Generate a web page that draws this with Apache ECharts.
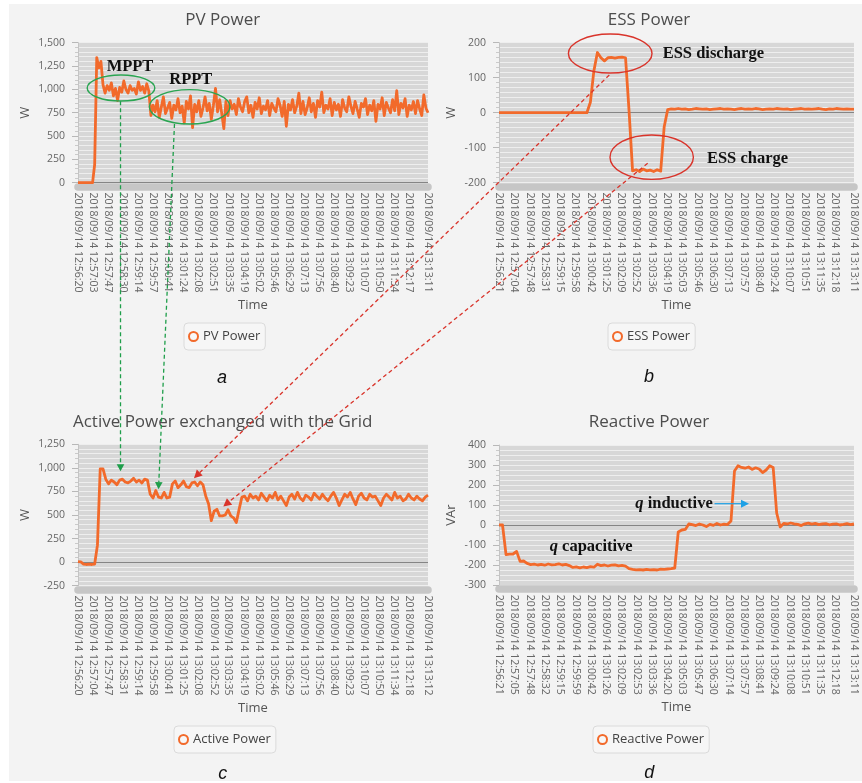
<!DOCTYPE html>
<html>
<head>
<meta charset="utf-8">
<script src="https://cdn.jsdelivr.net/npm/echarts@6/dist/echarts.min.js"></script>
<style>
  html, body { margin: 0; padding: 0; background: #ffffff; }
  #wrap { position: relative; width: 862px; height: 783px; background: #ffffff; overflow: hidden; }
  .panel { position: absolute; background: #f3f3f3; }
  #chart { position: absolute; left: 0; top: 0; width: 862px; height: 783px; }
</style>
</head>
<body>
<div id="wrap">
  <div class="panel" style="left:9px;top:4px;width:853px;height:777px"></div>
  <div id="chart"></div>
</div>
<script>
// ---- time-axis tick labels (one set per logger) ----
const pvTicks = ['2018/09/14 12:56:20','2018/09/14 12:57:03','2018/09/14 12:57:47','2018/09/14 12:58:30','2018/09/14 12:59:14','2018/09/14 12:59:57','2018/09/14 13:00:41','2018/09/14 13:01:24','2018/09/14 13:02:08','2018/09/14 13:02:51','2018/09/14 13:03:35','2018/09/14 13:04:19','2018/09/14 13:05:02','2018/09/14 13:05:46','2018/09/14 13:06:29','2018/09/14 13:07:13','2018/09/14 13:07:56','2018/09/14 13:08:40','2018/09/14 13:09:23','2018/09/14 13:10:07','2018/09/14 13:10:50','2018/09/14 13:11:34','2018/09/14 13:12:17','2018/09/14 13:13:11'];
const essTicks = ['2018/09/14 12:56:21','2018/09/14 12:57:04','2018/09/14 12:57:48','2018/09/14 12:58:31','2018/09/14 12:59:15','2018/09/14 12:59:58','2018/09/14 13:00:42','2018/09/14 13:01:25','2018/09/14 13:02:09','2018/09/14 13:02:52','2018/09/14 13:03:36','2018/09/14 13:04:19','2018/09/14 13:05:03','2018/09/14 13:05:46','2018/09/14 13:06:30','2018/09/14 13:07:13','2018/09/14 13:07:57','2018/09/14 13:08:40','2018/09/14 13:09:24','2018/09/14 13:10:07','2018/09/14 13:10:51','2018/09/14 13:11:35','2018/09/14 13:12:18','2018/09/14 13:13:11'];
const activeTicks = ['2018/09/14 12:56:20','2018/09/14 12:57:04','2018/09/14 12:57:47','2018/09/14 12:58:31','2018/09/14 12:59:14','2018/09/14 12:59:58','2018/09/14 13:00:41','2018/09/14 13:01:25','2018/09/14 13:02:08','2018/09/14 13:02:52','2018/09/14 13:03:35','2018/09/14 13:04:19','2018/09/14 13:05:02','2018/09/14 13:05:46','2018/09/14 13:06:29','2018/09/14 13:07:13','2018/09/14 13:07:56','2018/09/14 13:08:40','2018/09/14 13:09:23','2018/09/14 13:10:07','2018/09/14 13:10:50','2018/09/14 13:11:34','2018/09/14 13:12:18','2018/09/14 13:13:12'];
const reactiveTicks = ['2018/09/14 12:56:21','2018/09/14 12:57:05','2018/09/14 12:57:48','2018/09/14 12:58:32','2018/09/14 12:59:15','2018/09/14 12:59:59','2018/09/14 13:00:42','2018/09/14 13:01:26','2018/09/14 13:02:09','2018/09/14 13:02:53','2018/09/14 13:03:36','2018/09/14 13:04:20','2018/09/14 13:05:03','2018/09/14 13:05:47','2018/09/14 13:06:30','2018/09/14 13:07:14','2018/09/14 13:07:57','2018/09/14 13:08:41','2018/09/14 13:09:24','2018/09/14 13:10:08','2018/09/14 13:10:51','2018/09/14 13:11:35','2018/09/14 13:12:18','2018/09/14 13:13:11'];

// ---- logged values, evenly spaced between first and last timestamp ----
// PV power [W]
const pvPower = [0,0,0,0,0,0,0,0,195,1340,1230,1300,1050,
  960,1040,990,1070,930,1010,880,1020,970,1090,1000,960,1040,990,1010,950,1080,990,1030,960,1060,
  980,
  720,830,760,880,700,810,920,740,800,860,690,830,780,900,750,820,640,870,790,930,590,840,760,880,710,800,920,770,850,680,830,1010,760,890,740,580,870,
  720,880,790,840,730,900,810,760,870,920,
  750,830,700,860,790,910,740,820,780,880,
  720,850,800,760,900,830,710,870,605,840,
  780,890,750,820,960,740,870,730,800,910,
  760,850,700,880,810,970,750,830,790,900,
  720,860,780,840,710,890,800,760,920,820,
  740,870,790,700,850,810,900,730,830,770,
  880,657,840,790,910,720,860,800,750,890,
  770,985,730,850,800,900,710,830,780,870,
  740,880,790,720,940,800,750];
// ESS power [W]
const essPower = [0,0,0,0,0,0,0,0,0,0,0,0,0,0,0,0,0,0,0,0,0,0,0,0,0,0,
  30,120,172,157,148,157,158,156,158,159,157,5,
  -166,-163,-168,-161,-166,-164,-168,-163,-167,-40,9,
  11,10,12,10,11,9,10,12,11,10,11,9,10,11,12,10,11,10,9,11,
  12,10,11,10,12,11,9,10,11,10,12,11,10,11,9,10,11,12,10,11,
  10,11,12,10,9,11,10,12,11,10,11,10,10];
// Active power exchanged with the grid [W]
const activePower = [5,2,-20,-25,-22,-25,-20,180,990,
  990,880,830,870,850,820,870,880,850,840,860,890,850,870,840,880,870,
  720,680,760,690,680,740,680,690,
  830,860,790,820,860,800,790,840,850,810,
  850,820,700,620,440,540,560,490,490,500,555,490,470,420,560,690,
  700,650,720,680,700,660,730,690,650,710,
  680,740,660,700,650,600,690,720,670,740,
  680,650,710,690,660,730,700,670,720,680,
  650,700,740,680,600,660,720,690,740,670,
  610,700,730,680,660,720,690,700,650,600,
  680,720,690,660,740,680,700,650,670,720,
  680,660,700,670,650,690,710];
// Reactive power [VAr]
const reactivePower = [0,0,-148,-146,-145,-132,-182,-180,-192,-198,
  -196,-200,-197,-201,-195,-199,-198,-194,-200,-197,-203,
  -212,-209,-214,-210,-213,-208,-211,
  -196,
  -203,-200,-205,-201,-199,-204,-202,-206,
  -218,
  -222,-224,-223,-225,-222,-224,-223,-225,-221,-222,-220,-218,
  -215,-35,-25,-22,
  5,
  2,-3,5,0,-8,3,-2,8,0,4,2,
  20,270,296,
  288,284,290,278,286,280,262,275,296,288,
  60,-10,
  8,5,10,6,3,-3,6,9,4,8,2,5,7,1,4,6,0,3,7,2,5];

// ---- styling ----
const ORANGE = '#f26a2b';
const UI_FONT = 'Open Sans';
const SERIF = 'Liberation Serif';
const STRIPE = '#d7d7d7';
const STRIPE_LINE = '#eeeeee';
const ZERO_LINE = '#858585';

function secs(label) {
  const [h, m, s] = label.split(' ')[1].split(':').map(Number);
  return h * 3600 + m * 60 + s;
}
function tickOffsets(ticks) {
  const t0 = secs(ticks[0]);
  return ticks.map(l => secs(l) - t0);
}
function toPoints(values, ticks) {
  const offs = tickOffsets(ticks);
  const span = offs[offs.length - 1];
  const step = span / (values.length - 1);
  return values.map((v, i) => [i * step, v]);
}

function timeAxis(gridIndex, ticks) {
  const offs = tickOffsets(ticks);
  return {
    type: 'value', gridIndex: gridIndex, min: 0, max: offs[offs.length - 1],
    offset: 3.75,
    name: 'Time', nameLocation: 'middle', nameGap: 112,
    nameTextStyle: { fontFamily: UI_FONT, fontSize: 13, color: '#555' },
    axisLine: { show: true, onZero: false, lineStyle: { color: '#c6c6c6', width: 7.5 } },
    axisTick: { show: false },
    splitLine: { show: false },
    axisLabel: {
      customValues: offs,
      rotate: -90, margin: 6, fontFamily: UI_FONT, fontSize: 10.5, color: '#666',
      showMinLabel: true, showMaxLabel: true, hideOverlap: false,
      formatter: function (v) {
        const k = offs.findIndex(x => Math.abs(x - v) < 0.5);
        return k >= 0 ? ticks[k] : '';
      }
    }
  };
}

function valueAxis(gridIndex, min, max, interval, minorSplit, name, nameGap) {
  const n = Math.round((max - min) / interval) + 1;
  const colors = [];
  for (let i = 0; i < n; i++) colors.push(min + i * interval === 0 ? ZERO_LINE : STRIPE_LINE);
  return {
    type: 'value', gridIndex: gridIndex, min: min, max: max, interval: interval,
    offset: 5,
    name: name, nameLocation: 'middle', nameGap: nameGap, nameRotate: 90,
    nameTextStyle: { fontFamily: UI_FONT, fontSize: 13, color: '#555' },
    axisLine: { show: true, lineStyle: { color: '#c4c4c4', width: 1 } },
    axisTick: { show: true, length: 6, lineStyle: { color: '#b8b8b8' } },
    minorTick: { show: true, splitNumber: minorSplit, length: 3, lineStyle: { color: '#cacaca' } },
    splitLine: { show: true, lineStyle: { color: colors, width: 1.2 } },
    minorSplitLine: { show: true, lineStyle: { color: STRIPE_LINE, width: 1.2 } },
    axisLabel: {
      margin: 8, fontFamily: UI_FONT, fontSize: 10.5, color: '#666',
      formatter: v => v.toLocaleString('en-US')
    }
  };
}

function lineSeries(name, idx, values, ticks) {
  return {
    name: name, type: 'line', xAxisIndex: idx, yAxisIndex: idx,
    data: toPoints(values, ticks),
    showSymbol: false, symbol: 'emptyCircle', smooth: false,
    lineStyle: { color: ORANGE, width: 2.8, join: 'round' },
    itemStyle: { color: ORANGE },
    emphasis: { disabled: true },
    animation: false, silent: true, z: 3
  };
}

function legendBox(name, left, top) {
  return {
    data: [name], left: left, top: top, orient: 'horizontal',
    icon: 'circle', itemWidth: 9, itemHeight: 9,
    itemStyle: { color: '#f7f7f7', borderColor: ORANGE, borderWidth: 2 },
    padding: [7, 5, 7, 4],
    backgroundColor: '#f6f6f6', borderColor: '#dadada', borderWidth: 1, borderRadius: 4,
    textStyle: { fontFamily: UI_FONT, fontSize: 13, color: '#444' },
    selectedMode: false
  };
}

const gridBase = { show: true, backgroundColor: STRIPE, borderWidth: 0, containLabel: false };

const option = {
  animation: false,
  backgroundColor: 'transparent',
  textStyle: { fontFamily: UI_FONT },
  grid: [
    Object.assign({ left: 78, top: 42.7, width: 350, height: 140 }, gridBase),
    Object.assign({ left: 499, top: 42.7, width: 355, height: 140 }, gridBase),
    Object.assign({ left: 78, top: 444.3, width: 350, height: 141.4 }, gridBase),
    Object.assign({ left: 499, top: 445, width: 355, height: 140 }, gridBase)
  ],
  xAxis: [
    timeAxis(0, pvTicks),
    timeAxis(1, essTicks),
    timeAxis(2, activeTicks),
    timeAxis(3, reactiveTicks)
  ],
  yAxis: [
    valueAxis(0, 0, 1500, 250, 5, 'W', 41),
    valueAxis(1, -200, 200, 100, 7, 'W', 36),
    valueAxis(2, -250, 1250, 250, 5, 'W', 41),
    valueAxis(3, -300, 400, 100, 4, 'VAr', 36)
  ],
  legend: [
    legendBox('PV Power', 184, 323),
    legendBox('ESS Power', 608, 323),
    legendBox('Active Power', 174, 726),
    legendBox('Reactive Power', 593, 726)
  ],
  series: [
    lineSeries('PV Power', 0, pvPower, pvTicks),
    lineSeries('ESS Power', 1, essPower, essTicks),
    lineSeries('Active Power', 2, activePower, activeTicks),
    lineSeries('Reactive Power', 3, reactivePower, reactiveTicks)
  ]
};

const chart = echarts.init(document.getElementById('chart'), null, { renderer: 'canvas', width: 862, height: 783 });
chart.setOption(option);

// ---- panel headings and sub-figure letters ----
function heading(text, x, y) {
  return { type: 'text', x: x, y: y, silent: true, z: 50,
    style: { text: text, fontFamily: UI_FONT, fontSize: 17, fill: '#4d4d4d', textAlign: 'center', textVerticalAlign: 'middle' } };
}
function letter(text, x, y) {
  return { type: 'text', x: x, y: y, silent: true, z: 50,
    style: { text: text, fontFamily: 'Liberation Sans', fontStyle: 'italic', fontSize: 18, fill: '#111', textAlign: 'center', textVerticalAlign: 'middle' } };
}

// ---- annotations, anchored in each panel's data space ----
const px = (g, t, v) => chart.convertToPixel({ gridIndex: g }, [t, v]);

function ellipse(g, t, v, rx, ry, color) {
  const p = px(g, t, v);
  return { type: 'ellipse', silent: true, z: 60, shape: { cx: p[0], cy: p[1], rx: rx, ry: ry },
    style: { fill: 'none', stroke: color, lineWidth: 1.4 } };
}
function note(g, t, v, text, rich) {
  const p = px(g, t, v);
  return { type: 'text', x: p[0], y: p[1], silent: true, z: 60,
    style: { text: text, fontFamily: SERIF, fontWeight: 'bold', fontSize: 16.5, fill: '#111',
      textAlign: 'center', textVerticalAlign: 'middle', rich: rich || {} } };
}
function arrow(a, b, color, dashed, headLen, headW, width) {
  const dx = b[0] - a[0], dy = b[1] - a[1];
  const L = Math.hypot(dx, dy), ux = dx / L, uy = dy / L;
  const base = [b[0] - ux * headLen, b[1] - uy * headLen];
  const nx = -uy, ny = ux;
  return [
    { type: 'line', silent: true, z: 61,
      shape: { x1: a[0], y1: a[1], x2: base[0], y2: base[1] },
      style: { stroke: color, lineWidth: width, lineDash: dashed ? [4, 3] : null } },
    { type: 'polygon', silent: true, z: 62,
      shape: { points: [[b[0], b[1]], [base[0] + nx * headW, base[1] + ny * headW], [base[0] - nx * headW, base[1] - ny * headW]] },
      style: { fill: color } }
  ];
}

const GREEN = '#2aa552';
const GREEN_ARROW = '#1e9e4a';
const RED = '#d9342b';
const BLUE = '#1ea1e6';
const qRich = { q: { fontFamily: SERIF, fontWeight: 'bold', fontStyle: 'italic', fontSize: 16.5, fill: '#111' } };

const graphics = [
  heading('PV Power', 222.7, 20),
  heading('ESS Power', 649, 20),
  heading('Active Power exchanged with the Grid', 222.7, 421.7),
  heading('Reactive Power', 649, 422),
  letter('a', 222, 378),
  letter('b', 649, 377),
  letter('c', 222.7, 774),
  letter('d', 649.3, 773),

  ellipse(0, 124.2, 1014, 33.8, 13, GREEN),
  ellipse(0, 322.6, 813, 40.3, 17.2, GREEN),
  note(0, 150.2, 1247, 'MPPT'),
  note(0, 325.8, 1104, 'RPPT'),

  ellipse(1, 316.4, 169, 41.8, 19.5, RED),
  ellipse(1, 434.4, -127, 41.7, 22.2, RED),
  note(1, 609.7, 168, 'ESS discharge'),
  note(1, 707, -132, 'ESS charge'),

  note(3, 497.9, 105, '{q|q} inductive', qRich),
  note(3, 262.3, -106.5, '{q|q} capacitive', qRich)
]
  .concat(arrow(px(0, 122.8, 872), px(2, 122.9, 965), GREEN_ARROW, true, 7, 3.8, 1.3))
  .concat(arrow(px(0, 278.7, 629), px(2, 232.8, 774), GREEN_ARROW, true, 7, 3.8, 1.3))
  .concat(arrow(px(1, 313.8, 107.7), px(2, 335.4, 891), RED, true, 8, 4.2, 1.3))
  .concat(arrow(px(1, 423, -144.6), px(2, 420.2, 591), RED, true, 8, 4.2, 1.3))
  .concat(arrow(px(3, 613.1, 106.5), px(3, 711.2, 106.5), BLUE, false, 8, 4, 1.2));

chart.setOption({ graphic: graphics });
</script>
</body>
</html>
